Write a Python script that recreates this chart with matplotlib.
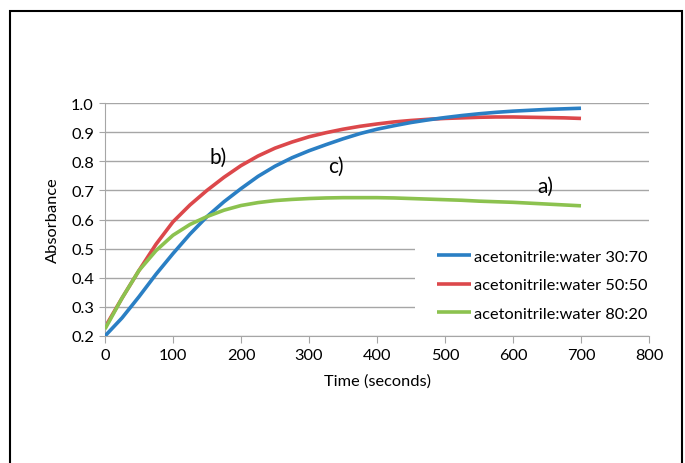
import matplotlib
matplotlib.use('Agg')
import matplotlib.pyplot as plt
from matplotlib.patches import Rectangle

plt.rcParams['font.family'] = ['Lato', 'DejaVu Sans']

# time in seconds
time = list(range(0, 701, 25))

abs_30_70 = [0.200, 0.262, 0.335, 0.412, 0.483, 0.550, 0.610, 0.661, 0.706, 0.748,
             0.783, 0.812, 0.836, 0.857, 0.877, 0.895, 0.910, 0.922, 0.933, 0.942,
             0.950, 0.957, 0.963, 0.968, 0.972, 0.975, 0.978, 0.980, 0.982]
abs_50_50 = [0.230, 0.330, 0.425, 0.515, 0.592, 0.650, 0.700, 0.745, 0.785, 0.818,
             0.845, 0.866, 0.884, 0.898, 0.910, 0.920, 0.928, 0.935, 0.940, 0.944,
             0.947, 0.949, 0.951, 0.952, 0.952, 0.951, 0.950, 0.949, 0.947]
abs_80_20 = [0.224, 0.330, 0.425, 0.493, 0.546, 0.583, 0.610, 0.632, 0.648, 0.658,
             0.665, 0.669, 0.672, 0.674, 0.675, 0.675, 0.675, 0.674, 0.672, 0.670,
             0.668, 0.666, 0.663, 0.661, 0.659, 0.656, 0.653, 0.650, 0.647]

labels = ['acetonitrile:water 30:70', 'acetonitrile:water 50:50', 'acetonitrile:water 80:20']
colors = ['#2a7fc4', '#dc484b', '#8cc24f']

# curve tags: (text, x, y)
tags = [('b)', 166, 0.815), ('c)', 340, 0.784), ('a)', 647, 0.715)]

W, H = 685, 464
fig = plt.figure(figsize=(W / 100, H / 100), dpi=100)
ax = fig.add_axes([105 / W, 1 - 337 / H, 544 / W, 233 / H])

series = [abs_30_70, abs_50_50, abs_80_20]
zs = [3, 2, 4]
for vals, lab, col, z in zip(series, labels, colors, zs):
    ax.plot(time, vals, color=col, lw=2.6, label=lab, zorder=z,
            solid_capstyle='butt', solid_joinstyle='round')

ax.set_xlim(0, 800)
ax.set_ylim(0.2, 1.0)
ax.set_xticks(range(0, 801, 100))
ax.set_yticks([0.2, 0.3, 0.4, 0.5, 0.6, 0.7, 0.8, 0.9, 1.0])
ax.set_yticklabels(['%.1f' % v for v in ax.get_yticks()])
ax.yaxis.grid(True, color='#a6a6a6', lw=1)
ax.set_axisbelow(True)
for s in ['top', 'right']:
    ax.spines[s].set_visible(False)
for s in ['left', 'bottom']:
    ax.spines[s].set_color('#a6a6a6')
ax.tick_params(axis='both', colors='#a6a6a6', labelcolor='black', labelsize=11.8)
ax.tick_params(axis='x', length=5, pad=4)
ax.tick_params(axis='y', length=4, pad=4)

ax.set_xlabel('Time (seconds)', fontsize=11.8, labelpad=8)
ax.set_ylabel('Absorbance', fontsize=11.8, labelpad=8)

for txt, x, y in tags:
    ax.text(x, y, txt, fontsize=15, ha='center', va='center', zorder=5)

# white area behind the legend hides the grid lines
bg = Rectangle((415 / W, 1 - 330 / H), 240 / W, 90 / H, transform=fig.transFigure,
               facecolor='white', edgecolor='none', zorder=1.5)
ax.add_patch(bg)
bg.set_clip_on(False)

ax.legend(loc='center left', bbox_to_anchor=(437 / W, 1 - 286 / H),
          bbox_transform=fig.transFigure, frameon=False, fontsize=11.8,
          handlelength=2.1, handletextpad=0.15, labelspacing=0.85,
          borderpad=0, borderaxespad=0)

# outer chart border
fig.add_artist(Rectangle((10 / W, -0.02), 672 / W, 1.02 - 12 / H,
                         transform=fig.transFigure, fill=False,
                         edgecolor='black', lw=1.5))

fig.savefig('out.png', dpi=100)
